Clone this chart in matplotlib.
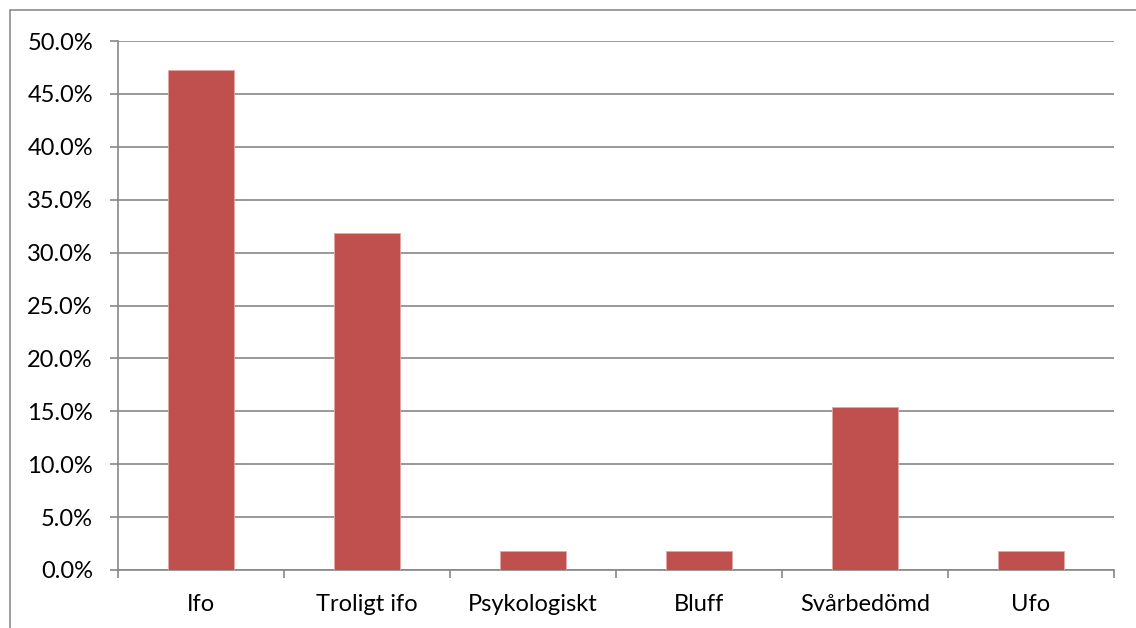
import matplotlib
matplotlib.use("Agg")
import matplotlib.pyplot as plt
from matplotlib.patches import Rectangle
from matplotlib.ticker import MultipleLocator, FuncFormatter

categories = ["Ifo", "Troligt ifo", "Psykologiskt", "Bluff", "Svårbedömd", "Ufo"]
shares = [47.27, 31.82, 1.82, 1.82, 15.45, 1.82]

plt.rcParams["font.family"] = ["Lato", "DejaVu Sans"]

fig = plt.figure(figsize=(11.36, 6.28), dpi=100)
ax = fig.add_axes([118 / 1136, 1 - 570 / 628, (1114 - 118) / 1136, (570 - 41) / 628])

x = range(len(categories))
ax.bar(x, shares, width=0.4, color="#C0504D", edgecolor="#E3A7A5", linewidth=0.6, zorder=3)

ax.set_xlim(-0.5, len(categories) - 0.5)
ax.set_ylim(0, 50)
ax.yaxis.set_major_locator(MultipleLocator(5))
ax.yaxis.set_major_formatter(FuncFormatter(lambda v, p: f"{v:.1f}%"))
ax.grid(axis="y", color="#878787", linewidth=1.2, zorder=0)

ax.set_xticks(list(x))
ax.set_xticklabels(categories)
ax.set_xticks([i - 0.5 for i in range(len(categories) + 1)], minor=True)
ax.tick_params(axis="x", which="major", length=0, pad=17, labelsize=17)
ax.tick_params(axis="x", which="minor", length=6, width=1.2, color="#878787", direction="out")
ax.tick_params(axis="y", length=6, width=1.2, color="#878787", labelsize=17, pad=12)

for side in ["top", "right"]:
    ax.spines[side].set_visible(False)
for side in ["left", "bottom"]:
    ax.spines[side].set_color("#878787")
    ax.spines[side].set_linewidth(1.2)

# outer chart border
fig.patches.append(Rectangle((10 / 1136, -0.1), 1.2, 1 - 10 / 628 + 0.1,
                             transform=fig.transFigure, fill=False,
                             edgecolor="#8C8C8C", linewidth=1.2))

fig.savefig("out.png", dpi=100)
